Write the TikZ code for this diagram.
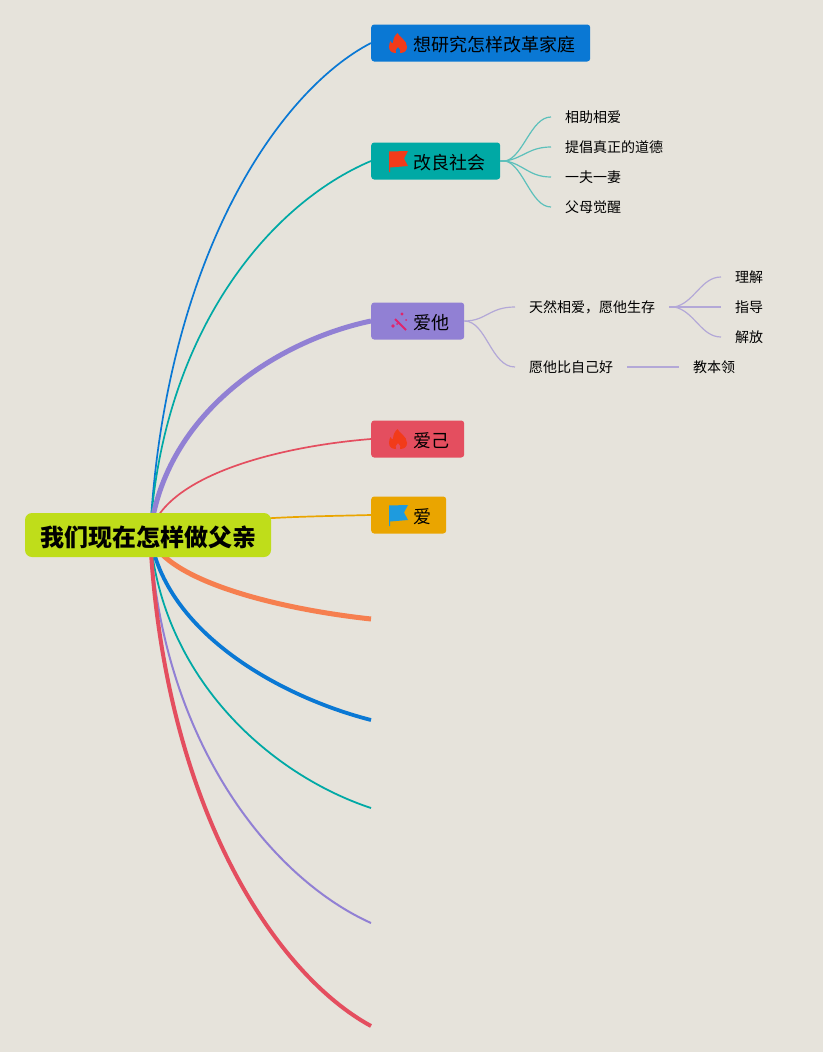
\documentclass[tikz,border=0pt]{standalone}
\usepackage{fontspec}
\setmainfont{Noto Sans CJK SC}
\usetikzlibrary{backgrounds}
\definecolor{mapBg}{RGB}{230,227,219}
\definecolor{mapRoot}{RGB}{191,221,26}
\definecolor{mapB}{RGB}{10,120,212}
\definecolor{mapT}{RGB}{0,169,165}
\definecolor{mapP}{RGB}{145,128,212}
\definecolor{mapR}{RGB}{228,78,95}
\definecolor{mapA}{RGB}{234,165,0}
\definecolor{mapO}{RGB}{246,127,79}
\definecolor{iconR}{RGB}{242,59,26}
\definecolor{iconB}{RGB}{30,155,222}
\definecolor{iconP}{RGB}{224,36,108}
\tikzset{
  rootbox/.style={fill=mapRoot,rounded corners=7pt,font=\fontsize{24}{28}\selectfont\bfseries,minimum width=246pt,minimum height=44pt,inner sep=0pt,text height=24pt,text depth=2pt},
  topicbox/.style={fill=#1,rounded corners=3pt,font=\fontsize{18}{22}\selectfont,anchor=west,minimum height=37pt,inner xsep=14.5pt,inner ysep=0pt,text height=18pt,text depth=1.5pt,execute at begin node=\hspace*{28pt}},
  leaf/.style={font=\fontsize{14}{18}\selectfont,anchor=west,inner xsep=14pt,inner ysep=0pt,minimum height=20pt},
  twig/.style={#1!60!mapBg,line width=1.2pt},
  flame/.pic={\fill[iconR] (-0.5,-10) .. controls (1,-6) and (9,-3) .. (9,4) .. controls (9,8) and (6,10) .. (2,10) .. controls (3.5,8) and (2,6) .. (0,4) .. controls (-2,6) and (-3.5,8) .. (-2,10) .. controls (-6,10) and (-9,8) .. (-9,4) .. controls (-9,1) and (-8,-1) .. (-7.5,-2) .. controls (-7,0) and (-6,0) .. (-5,0) .. controls (-5,-4) and (-3,-8) .. (-0.5,-10) -- cycle;},
  flagicon/.pic={\fill[#1] (-9,-9.5) -- (10,-10) -- (6,-2.5) -- (10,5) -- (-8,6.5) -- (-8,11) -- (-9,11) -- cycle;},
  wand/.pic={
    \draw[iconP,line width=2pt] (-3,-2) -- (8,9);
    \fill[iconP] (4,-7) circle (1.6pt) (-5,5) circle (1.8pt) (-1,3) circle (1pt) (8,-1) circle (1pt);
  },
}
\begin{document}
\begin{tikzpicture}[x=1pt,y=-1pt]
\useasboundingbox (0,0) rectangle (823,1052);
\node[rootbox] (root) at (148,535) {我们现在怎样做父亲};
\node[topicbox=mapB] (home) at (371,43) {想研究怎样改革家庭};
\node[topicbox=mapT] (society) at (371,161) {改良社会};
\node[topicbox=mapP] (others) at (371,321) {爱他};
\node[topicbox=mapR] (self) at (371,439) {爱己};
\node[topicbox=mapA] (love) at (371,515) {爱};
\pic at (398,43) {flame};
\pic at (398,161) {flagicon=iconR};
\pic at (398,321) {wand};
\pic at (398,439) {flame};
\pic at (398,515) {flagicon=iconB};
\node[leaf] (help) at (551,117) {相助相爱};
\node[leaf] (truth) at (551,147) {提倡真正的道德};
\node[leaf] (mono) at (551,177) {一夫一妻};
\node[leaf] (wake) at (551,207) {父母觉醒};
\node[leaf] (nature) at (515,307) {天然相爱，愿他生存};
\node[leaf] (better) at (515,367) {愿他比自己好};
\node[leaf] (grasp) at (721,277) {理解};
\node[leaf] (guide) at (721,307) {指导};
\node[leaf] (free) at (721,337) {解放};
\node[leaf] (skill) at (679,367) {教本领};
\coordinate (endO) at (371,619);
\coordinate (endB) at (371,720);
\coordinate (endT) at (371,808);
\coordinate (endP) at (371,923);
\coordinate (endR) at (371,1026);
\coordinate (hub) at (150,535);
\begin{scope}[on background layer]
\fill[mapBg] (0,0) rectangle (823,1052);
% main branches
\draw[mapB,line width=1.7pt] (hub) .. controls +(15,-280) and +(-91,47) .. (home.west);
\draw[mapT,line width=1.7pt] (hub) .. controls +(12,-202) and +(-102,43) .. (society.west);
\draw[mapP,line width=5pt] (hub) .. controls +(14.5,-124) and +(-91,19) .. (others.west);
\draw[mapR,line width=1.7pt] (hub) .. controls +(12,-57) and +(-99,8) .. (self.west);
\draw[mapA,line width=1.7pt] (hub) .. controls +(70,-18) and +(-80,2) .. (love.west);
\draw[mapO,line width=5pt] (hub) .. controls +(11,43) and +(-101,-11) .. (endO);
\draw[mapB,line width=3.8pt] (hub) .. controls +(15,98) and +(-90,-23) .. (endB);
\draw[mapT,line width=1.8pt] (hub) .. controls +(12.5,147) and +(-97,-32) .. (endT);
\draw[mapP,line width=2pt] (hub) .. controls +(12,210) and +(-98,-44) .. (endP);
\draw[mapR,line width=4pt] (hub) .. controls +(13.5,274) and +(-94,-51) .. (endR);
% sub branches
\draw[twig=mapT] (society.east) -- +(5,0) .. controls +(18,-4) and +(-20,0) .. (help.west);
\draw[twig=mapT] (society.east) -- +(5,0) .. controls +(18,-3) and +(-22,0) .. (truth.west);
\draw[twig=mapT] (society.east) -- +(5,0) .. controls +(18,3) and +(-22,0) .. (mono.west);
\draw[twig=mapT] (society.east) -- +(5,0) .. controls +(18,4) and +(-20,0) .. (wake.west);
\draw[twig=mapP] (others.east) .. controls +(22,0) and +(-26,0) .. (nature.west);
\draw[twig=mapP] (others.east) .. controls +(22,0) and +(-24,0) .. (better.west);
\draw[twig=mapP] (nature.east) -- +(5,0) .. controls +(20,-4) and +(-20,0) .. (grasp.west);
\draw[twig=mapP] (nature.east) -- (guide.west);
\draw[twig=mapP] (nature.east) -- +(5,0) .. controls +(20,4) and +(-20,0) .. (free.west);
\draw[twig=mapP] (better.east) -- (skill.west);
\end{scope}
\end{tikzpicture}
\end{document}
